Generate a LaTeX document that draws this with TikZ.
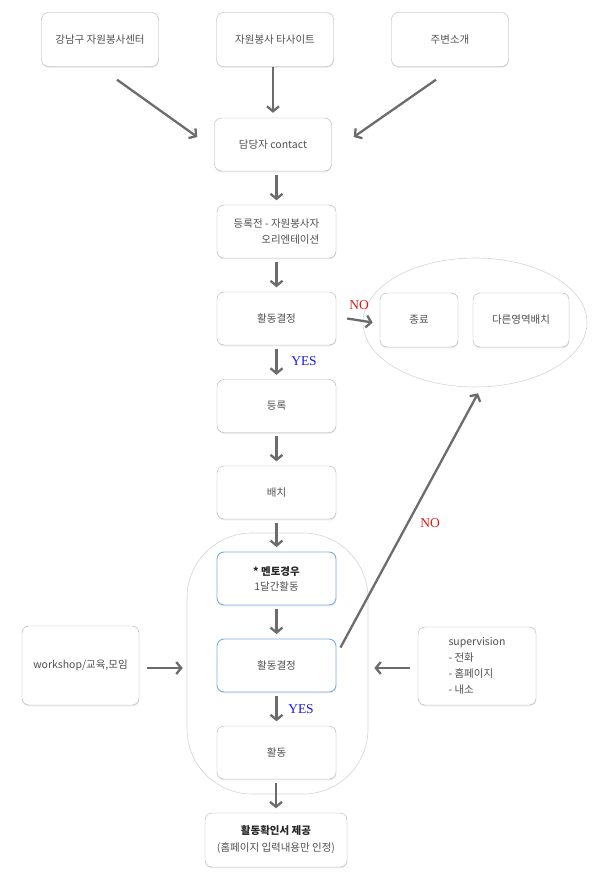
\documentclass[tikz,border=0pt]{standalone}
\usepackage{fontspec}
\setmainfont{Noto Sans CJK KR}
\newfontfamily\labelfont{Liberation Serif}
\usepackage{tikz}
\usetikzlibrary{arrows.meta,positioning,shapes.geometric,calc,shadows}
\definecolor{boxgray}{RGB}{178,178,178}
\definecolor{textgray}{RGB}{80,80,80}
\definecolor{arrowgray}{RGB}{108,108,108}
\definecolor{mentorblue}{RGB}{125,170,230}
\definecolor{yesblue}{RGB}{25,25,235}
\definecolor{nored}{RGB}{215,25,25}

\begin{document}
\begin{tikzpicture}[x=1pt,y=-1pt,
  box/.style={draw=boxgray, fill=white, rounded corners=7pt,
    minimum width=117pt, minimum height=53pt, inner sep=2pt,
    text=textgray, align=center, font=\fontsize{10.5}{16}\selectfont,
    drop shadow={shadow xshift=0.3pt, shadow yshift=-1.3pt, fill=black!16}},
  bluebox/.style={box, draw=mentorblue, line width=0.9pt},
  flow/.style={draw=arrowgray, line width=2.3pt,
    -{Straight Barb[length=5pt,width=12pt]}},
  yeslab/.style={font=\labelfont\fontsize{13.5}{14}\selectfont, text=yesblue},
  nolab/.style={font=\labelfont\fontsize{13.5}{14}\selectfont, text=nored},
  group/.style={draw=black!17, line width=0.6pt}]
  \useasboundingbox (0,0) rectangle (595,893);

  % Groups
  \node[group, ellipse, minimum width=224pt, minimum height=129pt, inner sep=0pt]
    (endset) at (475,322.5) {};
  \node[group, rounded corners=65pt, minimum width=181pt, minimum height=261pt]
    (loop) at (277.5,663.5) {};

  % Sources
  \node[box, minimum height=54pt] (src1) at (100,39.5) {강남구 자원봉사센터};
  \node[box, minimum height=54pt] (src2) at (275,39.5) {자원봉사 타사이트};
  \node[box, minimum height=54pt] (src3) at (450,39.5) {주변소개};

  % Main column
  \node[box] (contact) at (273,144.5) {담당자 contact};
  \node[box, minimum width=119pt, align=right] (orient) at (276.5,231.5)
    {등록전 - 자원봉사자\\오리엔테이션};
  \node[box, minimum width=119pt] (decide1) at (276.5,318.5) {활동결정};
  \node[box, minimum width=119pt] (reg) at (276.5,406) {등록};
  \node[box, minimum width=119pt] (place) at (276.5,492.5) {배치};
  \node[bluebox, minimum width=119pt, font=\fontsize{10.5}{15}\selectfont]
    (mentor) at (276.5,578.5)
    {{\color{black!85}\bfseries * 멘토경우}\\1달간활동};
  \node[bluebox, minimum width=119pt] (decide2) at (276.5,665.5) {활동결정};
  \node[box, minimum width=119pt] (act) at (276.5,752.5) {활동};
  \node[box, minimum width=142pt, minimum height=54pt, font=\fontsize{10.5}{17}\selectfont]
    (cert) at (276,840)
    {{\color{black!85}\bfseries 활동확인서 제공}\\(홈페이지 입력내용만 인정)};

  % End options
  \node[box, minimum width=78pt, minimum height=54pt] (stop) at (419,320) {종료};
  \node[box, minimum width=96pt, minimum height=54pt] (other) at (521,320) {다른영역배치};

  % Side inputs
  \node[box, minimum height=79pt] (workshop) at (80.5,665.5) {workshop/교육,모임};
  \node[box, minimum width=118pt, minimum height=78pt, align=left] (superv) at (477,666)
    {supervision\\- 전화\\- 홈페이지\\- 내소};

  % Arrows into contact
  \draw[flow] ($(src1.south)+(17,13)$) -- ($(contact.west)+(-17,-7.5)$);
  \draw[flow, shorten >=5pt] (contact.north |- src2.south) -- (contact.north);
  \draw[flow] ($(src3.south)+(-14,13)$) -- ($(contact.east)+(22,-7.5)$);

  % Vertical flow
  \foreach \a/\b in {contact/orient, orient/decide1, decide1/reg, reg/place,
                     place/mentor, mentor/decide2, decide2/act, act/cert}
    \draw[flow, shorten <=3.5pt, shorten >=4.5pt] (\b.north |- \a.south) -- (\b.north);

  % Decisions
  \draw[flow] ([xshift=11pt]decide1.east) -- ([xshift=10pt]endset.west);
  \node[nolab] (no1) at (359,305) {NO};
  \node[yeslab] (yes1) at (304,361) {YES};
  \draw[flow] ($(decide2.north east)+(4,9)$) -- ($(endset.south)+(3,6)$);
  \node[nolab] (no2) at (430,523) {NO};
  \node[yeslab] (yes2) at (301,709) {YES};

  % Side arrows
  \draw[flow, shorten <=8pt, shorten >=4pt] ([yshift=-2.5pt]workshop.east)
    -- ([yshift=-2.5pt]workshop.east -| loop.west);
  \draw[flow, shorten <=8pt, shorten >=6pt] ([yshift=-2pt]superv.west)
    -- ([yshift=-2pt]superv.west -| loop.east);
\end{tikzpicture}
\end{document}
